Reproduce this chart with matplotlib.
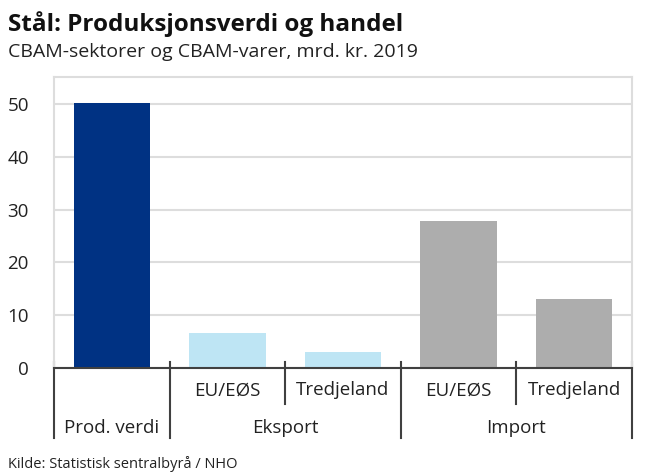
import matplotlib.pyplot as plt

plt.rcParams['font.family'] = ['Open Sans', 'DejaVu Sans']

# Data
categories = ['Prod. verdi', 'EU/EØS', 'Tredjeland', 'EU/EØS', 'Tredjeland']
groups = ['', 'Eksport', 'Eksport', 'Import', 'Import']
values = [50.1, 6.6, 3.0, 27.9, 13.1]
colors = ['#003283', '#BEE5F4', '#BEE5F4', '#ADADAD', '#ADADAD']
yticks = [0, 10, 20, 30, 40, 50]

fig = plt.figure(figsize=(6.55, 4.76), dpi=100)
ax = fig.add_axes([54 / 655, 1 - 368.3 / 476, 578 / 655, 291 / 476])

x = list(range(len(values)))
ax.bar(x, values, width=0.66, color=colors, zorder=3)

ax.set_xlim(-0.5, 4.5)
ax.set_ylim(0, 55)
ax.set_yticks(yticks)
ax.tick_params(axis='y', length=0, pad=18, labelsize=13.5, labelcolor='#222222')
ax.set_xticks([])
ax.grid(axis='y', color='#DDDDDD', linewidth=1.5, zorder=0)

for side in ['left', 'right', 'top']:
    ax.spines[side].set_color('#DDDDDD')
    ax.spines[side].set_linewidth(1.5)
ax.spines['bottom'].set_color('#404040')
ax.spines['bottom'].set_linewidth(1.5)
ax.spines['bottom'].set_zorder(4)

# category separators
tr = ax.get_xaxis_transform()
long_ticks = [-0.5, 0.5, 2.5, 4.5]
short_ticks = [1.5, 3.5]
for b in long_ticks:
    ax.plot([b, b], [0.023, -0.24], transform=tr, color='#404040', lw=1.5, clip_on=False)
for b in short_ticks:
    ax.plot([b, b], [0.023, -0.123], transform=tr, color='#404040', lw=1.5, clip_on=False)

# labels
fs = 13.5
for i, lab in enumerate(categories):
    if groups[i] == '':
        ax.text(i, -0.205, lab, transform=tr, ha='center', va='center', fontsize=fs, color='#222222')
    else:
        ax.text(i, -0.075, lab, transform=tr, ha='center', va='center', fontsize=fs, color='#222222')
ax.text(1.5, -0.205, 'Eksport', transform=tr, ha='center', va='center', fontsize=fs, color='#222222')
ax.text(3.5, -0.205, 'Import', transform=tr, ha='center', va='center', fontsize=fs, color='#222222')

fig.text(8 / 655, 1 - 31 / 476, 'Stål: Produksjonsverdi og handel', fontsize=17.5, fontweight='bold', color='#111111')
fig.text(8 / 655, 1 - 57 / 476, 'CBAM-sektorer og CBAM-varer, mrd. kr. 2019', fontsize=14, color='#222222')
fig.text(8 / 655, 1 - 468 / 476, 'Kilde: Statistisk sentralbyrå / NHO', fontsize=10.5, color='#222222')

plt.savefig('out.png', dpi=100)
